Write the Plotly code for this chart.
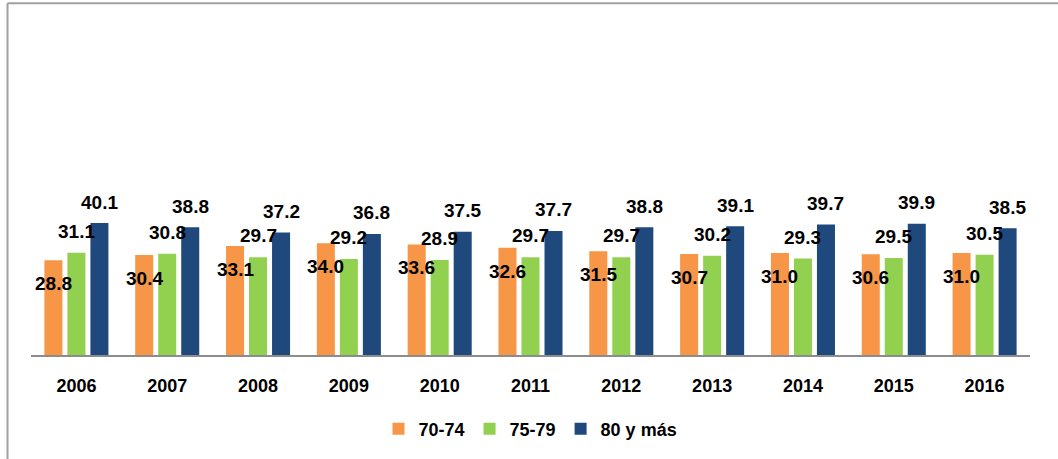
import plotly.graph_objects as go

years = ["2006", "2007", "2008", "2009", "2010", "2011", "2012", "2013", "2014", "2015", "2016"]
v70_74 = [28.8, 30.4, 33.1, 34.0, 33.6, 32.6, 31.5, 30.7, 31.0, 30.6, 31.0]
v75_79 = [31.1, 30.8, 29.7, 29.2, 28.9, 29.7, 29.7, 30.2, 29.3, 29.5, 30.5]
v80_mas = [40.1, 38.8, 37.2, 36.8, 37.5, 37.7, 38.8, 39.1, 39.7, 39.9, 38.5]

series = [
    ("70-74", v70_74, "#F79646"),
    ("75-79", v75_79, "#92D050"),
    ("80 y más", v80_mas, "#1F497D"),
]

FONT = "Liberation Sans, Arial, sans-serif"

fig = go.Figure()
for name, vals, color in series:
    fig.add_trace(go.Bar(x=years, y=vals, name=name, marker=dict(color=color, line=dict(width=0))))

# data labels: orange inside below top, green/blue above top
label_cfg = [(-23, -23.5), (0, 21.5), (23, 21)]
annotations = []
for (name, vals, color), (xs, ys) in zip(series, label_cfg):
    for idx, v in enumerate(vals):
        annotations.append(dict(
            x=idx, y=v, xref="x", yref="y", text=f"{v:.1f}", showarrow=False,
            xshift=xs, yshift=ys, yanchor="middle", xanchor="center",
            font=dict(family=FONT, size=19, color="#000000", weight=700),
        ))

shapes = [
    dict(type="line", xref="paper", yref="paper", x0=-0.0235, x1=1.05, y0=1.0693, y1=1.0693,
         line=dict(color="#a0a0a0", width=2)),
    dict(type="line", xref="paper", yref="paper", x0=-0.0235, x1=-0.0235, y0=1.0693, y1=-0.4,
         line=dict(color="#a0a0a0", width=2)),
]

fig.update_layout(
    width=1058, height=459,
    margin=dict(l=30.5, r=27.5, t=26, b=101),
    paper_bgcolor="white", plot_bgcolor="white",
    barmode="group", bargap=0.24, bargroupgap=0.217,
    showlegend=True,
    legend=dict(orientation="h", x=0.5, xanchor="center", y=-0.225, yanchor="middle",
                font=dict(family=FONT, size=18, color="#000000", weight=700),
                traceorder="normal"),
    annotations=annotations,
    shapes=shapes,
    xaxis=dict(type="category", range=[-0.5, len(years) - 0.5], showline=True,
               linecolor="#8c8c8c", linewidth=1.5,
               showgrid=False, zeroline=False, ticks="", ticklabelstandoff=14,
               tickfont=dict(family=FONT, size=18, color="#000000", weight=700)),
    yaxis=dict(range=[0, 100], visible=False, showgrid=False, zeroline=False),
)

fig.write_html("out.html", config={"displayModeBar": False},
               post_script="document.body.style.margin='0';document.body.style.overflow='hidden';")
